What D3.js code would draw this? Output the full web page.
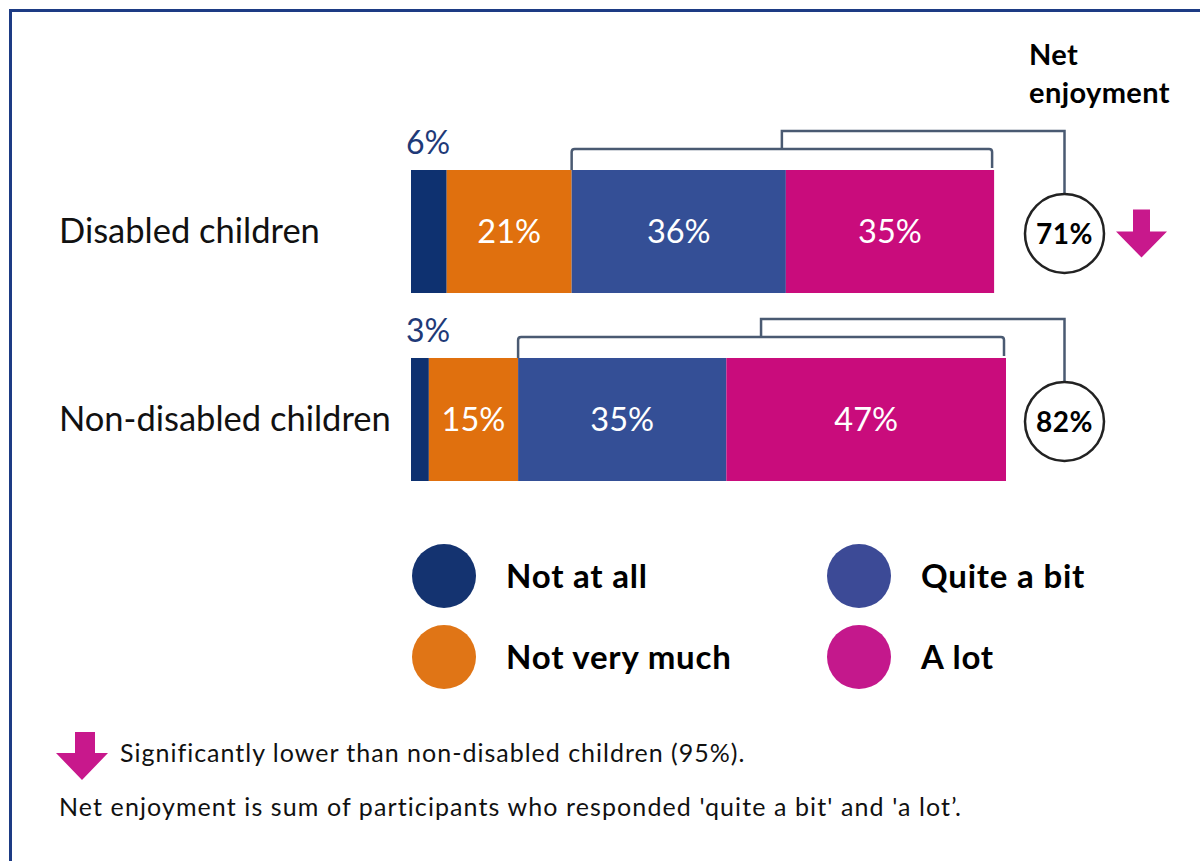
<!DOCTYPE html>
<html>
<head>
<meta charset="utf-8">
<script src="https://cdn.jsdelivr.net/npm/d3@7"></script>
<style>
  html, body { margin: 0; padding: 0; background: #ffffff; }
  svg { display: block; font-family: Lato, "Open Sans", sans-serif; }
</style>
</head>
<body>
<svg id="chart" width="1200" height="861"></svg>
<script>
// Survey responses: how much children enjoy the activity (%)
const groups = ["Disabled children", "Non-disabled children"];
const responses = ["Not at all", "Not very much", "Quite a bit", "A lot"];
const notAtAll = [6, 3];
const notVeryMuch = [21, 15];
const quiteABit = [36, 35];
const aLot = [35, 47];
const netEnjoyment = [71, 82];
const significantlyLower = [true, false];

const barColors = ["#0e3170", "#e0700e", "#344f96", "#c90c7c"];
const legendColors = ["#143370", "#e07516", "#3c4a96", "#c4188c"];

const svg = d3.select("#chart");

// Frame around the figure
svg.append("path")
  .attr("d", "M10.5,861 V10.5 H1200")
  .attr("fill", "none")
  .attr("stroke", "#1d3b84")
  .attr("stroke-width", 3);

const x = d3.scaleLinear().domain([0, 100]).range([411, 1006]);
const y = d3.scaleBand().domain(groups).range([170, 481]).paddingInner(0.3457).paddingOuter(0);

const rows = groups.map((g, i) => {
  const vals = [notAtAll[i], notVeryMuch[i], quiteABit[i], aLot[i]];
  let acc = 0;
  const segs = vals.map((v, k) => {
    const s = { group: g, key: responses[k], k, v, x0: acc, x1: acc + v };
    acc += v;
    return s;
  });
  return { group: g, i, segs, net: netEnjoyment[i], lower: significantlyLower[i] };
});

// Category labels
svg.append("g").selectAll("text")
  .data(groups)
  .join("text")
  .attr("x", 59)
  .attr("y", d => y(d) + y.bandwidth() / 2)
  .attr("dy", "0.34em")
  .attr("font-size", 34.5)
  .attr("fill", "#111")
  .text(d => d);

const rowG = svg.append("g").selectAll("g")
  .data(rows)
  .join("g");

// Stacked bars
rowG.selectAll("rect")
  .data(d => d.segs)
  .join("rect")
  .attr("x", d => x(d.x0))
  .attr("y", d => y(d.group))
  .attr("width", d => x(d.x1) - x(d.x0))
  .attr("height", y.bandwidth())
  .attr("fill", d => barColors[d.k]);

// Labels inside the wider segments
rowG.selectAll("text.seg")
  .data(d => d.segs.filter(s => s.k > 0))
  .join("text")
  .attr("class", "seg")
  .attr("x", d => (x(d.x0) + x(d.x1)) / 2)
  .attr("y", d => y(d.group) + y.bandwidth() / 2)
  .attr("dy", "0.36em")
  .attr("text-anchor", "middle")
  .attr("font-size", 32.5)
  .attr("fill", "#ffffff")
  .text(d => d.v + "%");

// "Not at all" value above the thin first segment
rowG.append("text")
  .attr("x", d => x(0) - 5)
  .attr("y", d => y(d.group) - 16)
  .attr("font-size", 32)
  .attr("fill", "#1f3a78")
  .text(d => d.segs[0].v + "%");

// Net enjoyment brackets and circles
const circleX = 1064.5;
const circleR = 39.5;
const lineColor = "#4a5a72";

rowG.each(function(d) {
  const g = d3.select(this);
  const top = y(d.group);
  const left = x(d.segs[2].x0);
  const right = x(d.segs[3].x1) - 2;
  const inner = top - 21;
  const outer = top - 39;
  const mid = (left + right) / 2;
  const cy = top + y.bandwidth() / 2 + 2;

  g.append("path")
    .attr("d", `M${left},${top} V${inner + 3} Q${left},${inner} ${left + 3},${inner} H${right - 3} Q${right},${inner} ${right},${inner + 3} V${top - 2}`)
    .attr("fill", "none")
    .attr("stroke", lineColor)
    .attr("stroke-width", 2.5);

  g.append("path")
    .attr("d", `M${mid},${inner} V${outer} H${circleX} V${cy - circleR}`)
    .attr("fill", "none")
    .attr("stroke", lineColor)
    .attr("stroke-width", 2.5);

  g.append("circle")
    .attr("cx", circleX)
    .attr("cy", cy)
    .attr("r", circleR)
    .attr("fill", "#ffffff")
    .attr("stroke", "#222")
    .attr("stroke-width", 2.5);

  g.append("text")
    .attr("x", circleX)
    .attr("y", cy)
    .attr("dy", "0.36em")
    .attr("text-anchor", "middle")
    .attr("font-size", 28)
    .attr("letter-spacing", 0.5)
    .attr("font-weight", "bold")
    .attr("fill", "#000")
    .text(d.net + "%");

  if (d.lower) {
    const ax = 1141.5;
    const ay = cy - 24;
    g.append("path")
      .attr("d", `M${ax - 8.5},${ay} H${ax + 8.5} V${ay + 22} H${ax + 25.5} L${ax},${ay + 48} L${ax - 25.5},${ay + 22} H${ax - 8.5} Z`)
      .attr("fill", "#c8188c");
  }
});

// Column heading
const head = svg.append("text")
  .attr("x", 1029)
  .attr("y", 65)
  .attr("font-size", 29)
  .attr("letter-spacing", 0.4)
  .attr("font-weight", "bold")
  .attr("fill", "#000");
head.append("tspan").attr("x", 1029).text("Net");
head.append("tspan").attr("x", 1029).attr("dy", 38).text("enjoyment");

// Legend
const legendPos = [
  { cx: 444, cy: 576 },
  { cx: 444, cy: 657 },
  { cx: 859, cy: 576 },
  { cx: 859, cy: 657 }
];
const legend = svg.append("g").selectAll("g")
  .data(responses)
  .join("g");
legend.append("circle")
  .attr("cx", (d, i) => legendPos[i].cx)
  .attr("cy", (d, i) => legendPos[i].cy)
  .attr("r", 32)
  .attr("fill", (d, i) => legendColors[i]);
legend.append("text")
  .attr("x", (d, i) => legendPos[i].cx + 62)
  .attr("y", (d, i) => legendPos[i].cy)
  .attr("dy", "0.36em")
  .attr("font-size", 33)
  .attr("letter-spacing", 0.8)
  .attr("font-weight", "bold")
  .attr("fill", "#000")
  .text(d => d);

// Footnotes
svg.append("path")
  .attr("d", "M75,732 H95 V753 H108 L82,780 L56,753 H75 Z")
  .attr("fill", "#c8188c");
svg.append("text")
  .attr("x", 120)
  .attr("y", 762)
  .attr("font-size", 25)
  .attr("letter-spacing", 1)
  .attr("fill", "#111")
  .text("Significantly lower than non-disabled children (95%).");
svg.append("text")
  .attr("x", 59)
  .attr("y", 816)
  .attr("font-size", 25)
  .attr("letter-spacing", 1.1)
  .attr("fill", "#111")
  .text("Net enjoyment is sum of participants who responded 'quite a bit' and 'a lot\u2019.");
</script>
</body>
</html>
